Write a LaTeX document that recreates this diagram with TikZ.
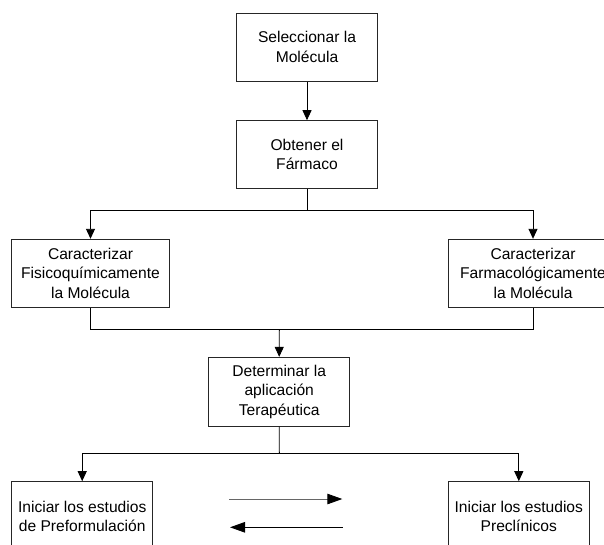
\documentclass[tikz,border=0pt]{standalone}
\usepackage{fontspec}
\setmainfont{Liberation Sans}
\usetikzlibrary{arrows.meta}
\begin{document}
\begin{tikzpicture}[x=1pt,y=-1pt,
  box/.style={draw=black!85, line width=1pt, inner sep=0pt, align=center,
    font=\fontsize{15.6}{19.7}\selectfont, text=black},
  conn/.style={line width=0.9pt, draw=black},
  arr/.style={conn, -{Triangle[length=10pt,width=9pt,color=black,fill=black]}},
  bigarr/.style={line width=0.9pt, -{Triangle[length=15pt,width=10.5pt,color=black,fill=black]}}]
\useasboundingbox (0,0) rectangle (604,544);
\clip (0,0) rectangle (604,544);
\fill[white] (0,0) rectangle (604,544);

\node[box, minimum width=141.7pt, minimum height=68pt] (b1) at (307,47) {Seleccionar la\\Molécula};
\node[box, minimum width=141.7pt, minimum height=67.6pt] (b2) at (307,154.5) {Obtener el\\Fármaco};
\node[box, minimum width=157.6pt, minimum height=68pt] (b3) at (90.5,273.3) {Caracterizar\\Fisicoquímicamente\\la Molécula};
\node[box, minimum width=169.4pt, minimum height=68pt] (b4) at (533,273.3) {Caracterizar\\Farmacológicamente\\la Molécula};
\node[box, minimum width=141pt, minimum height=68.7pt] (b5) at (279.2,391.7) {Determinar la\\aplicación\\Terapéutica};
\node[box, minimum width=141pt, minimum height=69.4pt] (b6) at (82.2,516.4) {Iniciar los estudios\\de Preformulación};
\node[box, minimum width=141pt, minimum height=69.4pt] (b7) at (518.8,516.4) {Iniciar los estudios\\Preclínicos};

\coordinate (j1) at (307,210.7);
\coordinate (j2) at (279.3,329.3);
\coordinate (j3) at (279.3,453.3);
\coordinate (a1) at (229.3,499);
\coordinate (a2) at (342.3,499);
\coordinate (a3) at (342.7,527.3);
\coordinate (a4) at (230,527.3);

\draw[arr] (b1.south) -- (b2.north);
\draw[conn] (b2.south) -- (j1);
\draw[arr] (j1) -| (b3.north);
\draw[arr] (j1) -| (b4.north);
\draw[conn] (b3.south) -- (b3.south |- j2) -- (b4.south |- j2) -- (b4.south);
\draw[arr] (j2) -- (b5.north);
\draw[conn] (b5.south) -- (j3);
\draw[arr] (j3) -| (b6.north);
\draw[arr] (j3) -| (b7.north);
\draw[bigarr, draw=black!60] (a1) -- (a2);
\draw[bigarr, draw=black] (a3) -- (a4);
\end{tikzpicture}
\end{document}
